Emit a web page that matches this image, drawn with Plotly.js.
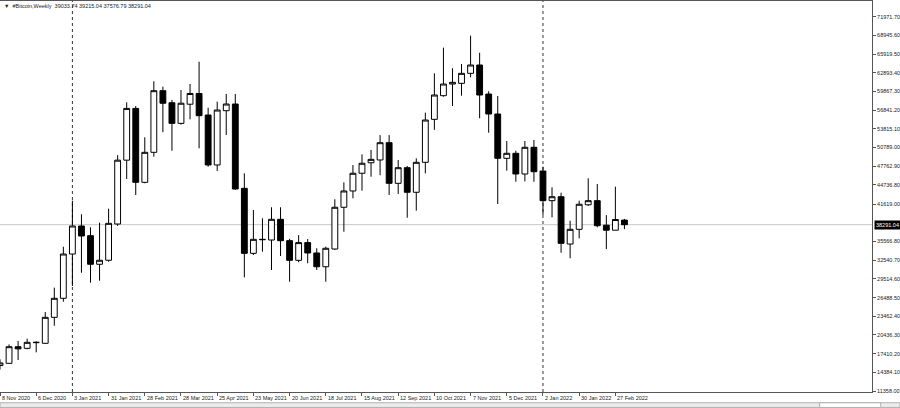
<!DOCTYPE html>
<html><head><meta charset="utf-8">
<script src="https://cdn.plot.ly/plotly-3.0.1.min.js"></script>
<style>html,body{margin:0;padding:0;background:#fff;overflow:hidden}#chart{width:900px;height:408px}</style>
</head><body><div id="chart"></div>
<script>
const weeks = ['2020-11-08','2020-11-15','2020-11-22','2020-11-29','2020-12-06','2020-12-13','2020-12-20','2020-12-27',
'2021-01-03','2021-01-10','2021-01-17','2021-01-24','2021-01-31','2021-02-07','2021-02-14','2021-02-21','2021-02-28',
'2021-03-07','2021-03-14','2021-03-21','2021-03-28','2021-04-04','2021-04-11','2021-04-18','2021-04-25','2021-05-02',
'2021-05-09','2021-05-16','2021-05-23','2021-05-30','2021-06-06','2021-06-13','2021-06-20','2021-06-27','2021-07-04',
'2021-07-11','2021-07-18','2021-07-25','2021-08-01','2021-08-08','2021-08-15','2021-08-22','2021-08-29','2021-09-05',
'2021-09-12','2021-09-19','2021-09-26','2021-10-03','2021-10-10','2021-10-17','2021-10-24','2021-10-31','2021-11-07',
'2021-11-14','2021-11-21','2021-11-28','2021-12-05','2021-12-12','2021-12-19','2021-12-26','2022-01-02','2022-01-09',
'2022-01-16','2022-01-23','2022-01-30','2022-02-06','2022-02-13','2022-02-20','2022-02-27','2022-03-06'];

const openP = [15480,15842,18530,18270,19180,19080,23290,26370,33540,38080,
36510,31880,32530,38400,48740,57120,45150,50010,59990,58040,
54700,57800,59540,56050,47960,56750,57830,44180,33650,35920,
35810,39160,35700,32520,35390,33710,31480,34350,41110,43750,
46620,48320,48770,51570,44990,47520,43540,48390,55350,59180,
61070,61180,62800,64150,59450,56210,49040,49850,46500,50820,
46980,42180,42820,35160,37540,41510,42180,38210,37400,39033.74];

const highP = [16480,18900,19460,19830,19400,24150,28090,34720,42170,39970,
37870,38620,40880,49550,58110,57510,52440,61510,60640,58500,
60100,61070,64680,57230,58210,59460,59460,46610,40670,39320,
41110,41110,36000,36600,35970,34470,34730,42400,45150,47950,
49680,50400,52800,52800,48770,47800,49040,56430,62800,66960,
63620,64310,68900,66140,59900,59130,51840,50270,51840,52000,
47680,44340,43470,38940,42180,45800,44880,39840,44440,39215.04];

const lowP = [14850,15760,16380,18110,17620,19000,21930,25820,28360,30510,
28900,29220,32300,38100,45690,43100,45000,49300,53250,50270,
54500,55350,50660,47680,47000,52810,43950,29770,33380,33920,
30950,33220,29060,32200,32040,30950,29060,34200,37150,42560,
43800,46060,46300,43100,43260,39420,40560,46600,53650,59020,
57510,59180,62160,55520,53190,41640,47030,45250,45300,45250,
39870,39480,33750,32850,36080,41320,37860,34330,37400,37576.79];

const closeP = [15900,18532,18180,19240,19240,23290,26370,33540,38080,36460,
31880,32530,38510,48740,57120,45150,50010,59990,57960,54700,
57960,59540,55940,47960,56860,57830,44070,33650,35920,35870,
39160,35700,32520,35390,33710,31480,34470,41110,43750,46620,
48240,48870,51570,44990,47520,43540,48390,55240,59290,61070,
61340,62800,64150,59290,56210,49040,49850,46500,50820,46870,
42180,42820,35270,37540,41600,42180,38130,37400,39130,38291.04];

const priceTicks = [71971.70,68945.60,65919.50,62893.40,59867.30,56841.20,53815.10,50789.00,47762.90,44736.80,
41619.00,35566.80,32540.70,29514.60,26488.50,23462.40,20436.30,17410.20,14384.10,11358.00];
const dateTicks = ['2020-11-08','2020-12-06','2021-01-03','2021-01-31','2021-02-28','2021-03-28','2021-04-25','2021-05-23',
'2021-06-20','2021-07-18','2021-08-15','2021-09-12','2021-10-10','2021-11-07','2021-12-05','2022-01-02','2022-01-30','2022-02-27'];
const dateLabels = ['8 Nov 2020','6 Dec 2020','3 Jan 2021','31 Jan 2021','28 Feb 2021','28 Mar 2021','25 Apr 2021','23 May 2021',
'20 Jun 2021','18 Jul 2021','15 Aug 2021','12 Sep 2021','10 Oct 2021','7 Nov 2021','5 Dec 2021','2 Jan 2022','30 Jan 2022','27 Feb 2022'];
const separators = ['2021-01-03','2022-01-02'];
const symbolName = '#Bitcoin,Weekly';
const lastIdx = closeP.length - 1;

const FONT = 'Tahoma, "Liberation Sans", Arial, sans-serif';

const trace = {
  type: 'candlestick',
  x: weeks, open: openP, high: highP, low: lowP, close: closeP,
  increasing: {line: {color: '#000', width: 1}, fillcolor: '#ffffff'},
  decreasing: {line: {color: '#000', width: 1}, fillcolor: '#000000'},
  whiskerwidth: 0,
  hoverinfo: 'skip',
  showlegend: false
};

const shapes = [
  {type:'line', xref:'paper', x0:0, x1:1, yref:'y', y0:closeP[lastIdx], y1:closeP[lastIdx], line:{color:'#c8c8c8', width:1}, layer:'below'},
];
separators.forEach(d => shapes.push({type:'line', xref:'x', x0:d, x1:d, yref:'paper', y0:0, y1:1, line:{color:'#333', width:1, dash:'dot'}, layer:'below'}));
// bottom tab strip (decoration)
shapes.push({type:'rect', xref:'paper', yref:'paper', x0:0, x1:1.032, y0:-0.0395, y1:-0.0275, fillcolor:'#ececec', line:{color:'#b0b0b0', width:1}});
shapes.push({type:'rect', xref:'paper', yref:'paper', x0:0.94, x1:1.01, y0:-0.0395, y1:-0.0275, fillcolor:'#ffffff', line:{color:'#b0b0b0', width:1}});

const fmtTick = v => v.toFixed(2);

const annotations = [
  {xref:'paper', yref:'paper', x:0.002, y:1, xanchor:'left', yanchor:'top', showarrow:false,
   text: '▼  ' + symbolName + '  ' + [openP[lastIdx], highP[lastIdx], lowP[lastIdx], closeP[lastIdx]].map(fmtTick).join(' '),
   font:{family: FONT, size: 5.5, color:'#222'}},
  {xref:'paper', yref:'y', x:1, y:closeP[lastIdx], xanchor:'left', yanchor:'middle', xshift:2, showarrow:false,
   text: fmtTick(closeP[lastIdx]), bgcolor:'#000', borderpad:1,
   font:{family: FONT, size: 5.5, color:'#fff'}}
];
dateTicks.forEach((d, i) => annotations.push({
  xref:'x', yref:'paper', x:d, y:0, xanchor:'left', yanchor:'top', xshift:0, yshift:-1, showarrow:false,
  text: dateLabels[i], font:{family: FONT, size: 5.5, color:'#222'}
}));

const layout = {
  width: 900, height: 408,
  margin: {l: 0, r: 28, t: 1, b: 16, pad: 0},
  paper_bgcolor: '#ffffff', plot_bgcolor: '#ffffff',
  showlegend: false,
  boxgap: 0.3, boxgroupgap: 0.08,
  xaxis: {
    type: 'date',
    range: ['2020-11-08', '2022-09-13 12:00'],
    rangeslider: {visible: false},
    showgrid: false, zeroline: false,
    showline: true, mirror: true, linecolor: '#555', linewidth: 1,
    ticks: 'outside', ticklen: 3, tickcolor: '#555',
    tickmode: 'array', tickvals: dateTicks, showticklabels: false,
    fixedrange: true
  },
  yaxis: {
    side: 'right',
    range: [11196, 74514],
    showgrid: false, zeroline: false,
    showline: true, linecolor: '#555', linewidth: 1,
    ticks: 'outside', ticklen: 3, tickcolor: '#555',
    tickmode: 'array', tickvals: priceTicks, ticktext: priceTicks.map(fmtTick),
    tickfont: {family: FONT, size: 5.5, color: '#222'},
    fixedrange: true
  },
  shapes: shapes,
  annotations: annotations
};

Plotly.newPlot('chart', [trace], layout, {staticPlot: true, displayModeBar: false});
</script>
</body></html>
